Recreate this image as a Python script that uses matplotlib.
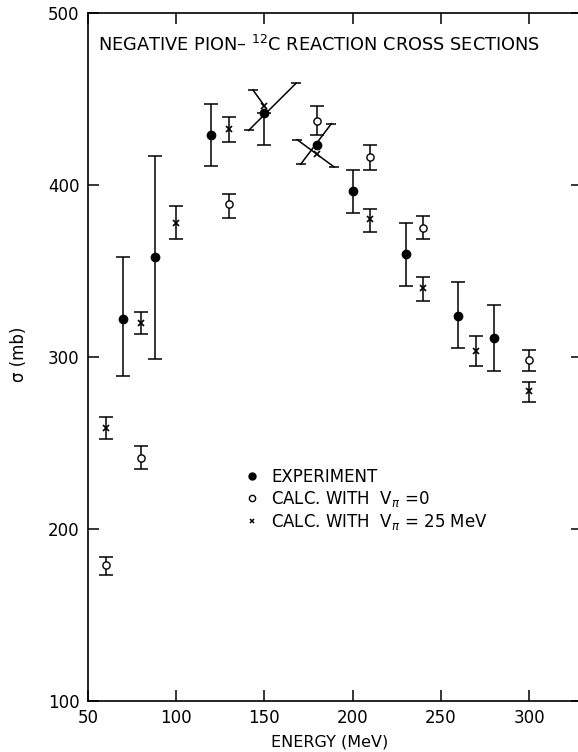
import matplotlib.pyplot as plt
import numpy as np
from matplotlib.lines import Line2D

nan = np.nan

# experiment (filled circles)
exp_e = [70, 88, 120, 150, 180, 200, 230, 260, 280]
exp_s = [322, 358, 429, 442, 423, 396.5, 360, 324, 311]
exp_hi = [358, 417, 447, 442, nan, 409, 378, 343.5, 330]
exp_lo = [289, 299, 411, 423.5, nan, 384, 341, 305, 292]

# calc with V_pi = 0 (open circles)
v0_e = [60, 80, 130, 180, 210, 240, 300]
v0_s = [179, 241, 389, 437, 416, 375, 298]
v0_hi = [184, 248, 395, 446, 423, 382, 304]
v0_lo = [173, 235, 381, 429, 408.5, 368.5, 292]

# calc with V_pi = 25 MeV (crosses)
v25_e = [60, 80, 100, 130, 150, 180, 210, 240, 270, 300]
v25_s = [259, 320, 378, 432.5, 446, 418, 380, 340, 303.5, 280]
v25_hi = [265, 326, 388, 439.5, nan, nan, 386, 346.5, 312, 285.5]
v25_lo = [252.5, 313.5, 368.5, 425, nan, nan, 372.5, 332.5, 294.5, 274]

# tilted error bars near the resonance (start/end points)
diag_e0 = [141, 143.5, 170.5, 168.5]
diag_s0 = [431.7, 455.3, 412, 426.4]
diag_e1 = [168, 150, 188, 189.5]
diag_s1 = [459.2, 446, 435.7, 410.5]
diag_cap_end = [True, False, True, True]

fig = plt.figure(figsize=(5.78, 7.52), dpi=100)
ax = fig.add_axes([0.1522, 0.0678, 0.8547, 0.9149])

def draw(e, s, lo, hi, **kw):
    e, s, lo, hi = map(np.array, (e, s, lo, hi))
    m = ~np.isnan(lo)
    ax.errorbar(e[m], s[m], yerr=[s[m] - lo[m], hi[m] - s[m]], fmt='none',
                ecolor='black', elinewidth=1.1, capsize=5, capthick=1.1)
    ax.plot(e, s, linestyle='none', **kw)

draw(exp_e, exp_s, exp_lo, exp_hi, marker='o', ms=6, color='black', zorder=4)
draw(v0_e, v0_s, v0_lo, v0_hi, marker='o', ms=5.2, mfc='white', mec='black', mew=1.0, zorder=4)
draw(v25_e, v25_s, v25_lo, v25_hi, marker='x', ms=4, color='black', mew=1.2, zorder=4)

for a0, b0, a1, b1, c in zip(diag_e0, diag_s0, diag_e1, diag_s1, diag_cap_end):
    ax.plot([a0, a1], [b0, b1], color='black', lw=1.1)
    ax.plot([a0], [b0], marker='_', ms=7, mew=1.1, color='black')
    if c:
        ax.plot([a1], [b1], marker='_', ms=7, mew=1.1, color='black')

ax.set_xlim(50, 330)
ax.set_ylim(100, 500)
ax.set_xticks([50, 100, 150, 200, 250, 300])
ax.set_yticks([100, 200, 300, 400, 500])
ax.tick_params(direction='in', length=8, width=1.1, top=True, right=True,
               labelsize=12, pad=6, colors='black')
for sp in ax.spines.values():
    sp.set_linewidth(1.2)

ax.set_xlabel("ENERGY (MeV)", fontsize=11.5)
ax.xaxis.set_label_coords(0.49, -0.049)
ax.set_ylabel("σ (mb)", fontsize=12)
ax.yaxis.set_label_coords(-0.121, 0.504)

ax.text(0.020, 0.945, "NEGATIVE PION– $^{12}$C REACTION CROSS SECTIONS",
        transform=ax.transAxes, fontsize=12.8, va='baseline', ha='left')

handles = [
    Line2D([], [], linestyle='none', marker='o', ms=5, color='black'),
    Line2D([], [], linestyle='none', marker='o', ms=4.5, mfc='white', mec='black', mew=1.0),
    Line2D([], [], linestyle='none', marker='x', ms=3.5, mew=1.1, color='black'),
]
labels = ["EXPERIMENT", r"CALC. WITH  V$_{\pi}$ =0", r"CALC. WITH  V$_{\pi}$ = 25 MeV"]
ax.legend(handles, labels, loc='upper left', bbox_to_anchor=(0.315, 0.339),
          frameon=False, fontsize=12, borderpad=0, borderaxespad=0,
          handlelength=1.0, handletextpad=0.65, labelspacing=0.18)

plt.savefig('out.png', dpi=100)
plt.close()
